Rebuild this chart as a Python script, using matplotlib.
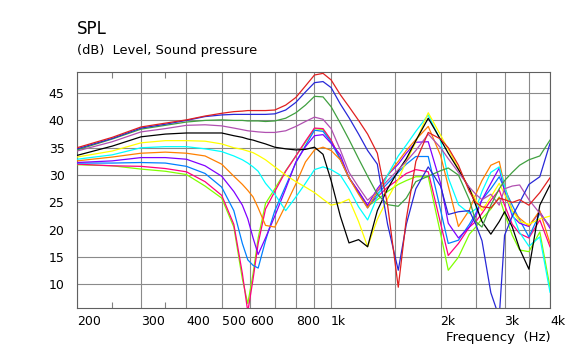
import matplotlib
matplotlib.use("Agg")
import matplotlib.pyplot as plt
from matplotlib.ticker import FixedLocator, NullFormatter

# measurement frequencies (Hz)
freq = [200, 250, 300, 350, 400, 450, 500, 540, 570, 590, 610, 630, 660, 700, 750, 800, 850, 900, 950, 1000,
        1060, 1120, 1190, 1260, 1340, 1430, 1530, 1610, 1710, 1850, 2000, 2100, 2240, 2400, 2500, 2600,
        2750, 2900, 3000, 3150, 3300, 3500, 3750, 4000]

# SPL curves (dB)
spl_red = [35.0, 36.9, 38.8, 39.5, 40.1, 40.8, 41.3, 41.6, 41.7, 41.8, 41.8, 41.8, 41.8, 41.9, 42.8, 44.2, 46.3, 48.3, 48.6, 47.4,
           44.7, 42.5, 40.0, 37.5, 34.0, 24.5, 9.5, 22.0, 32.5, 37.8, 36.6, 35.0, 31.8, 27.0, 25.0, 24.2,
           24.0, 25.8, 25.5, 25.0, 25.5, 24.5, 26.8, 29.5]
spl_blue = [34.8, 36.7, 38.6, 39.3, 40.0, 40.7, 41.0, 41.1, 41.1, 41.1, 41.1, 41.1, 41.1, 41.2, 41.9, 43.3, 45.2, 46.9, 47.1, 46.0,
            43.0, 40.5, 37.5, 34.5, 32.0, 21.0, 12.6, 21.0, 27.5, 31.5, 28.0, 22.8, 23.3, 23.5, 21.0, 18.0,
            8.5, 4.0, 19.0, 22.5, 25.0, 28.3, 29.7, 35.8]
spl_green = [34.6, 36.6, 38.4, 39.1, 39.7, 40.0, 40.1, 40.0, 40.0, 39.9, 39.9, 39.9, 39.8, 39.9, 40.4, 41.4, 42.8, 44.4, 44.3, 42.5,
             39.5, 36.5, 33.0, 29.8, 26.5, 24.6, 24.3, 25.8, 28.8, 29.8, 30.8, 31.3, 30.0, 25.5, 21.5, 20.5,
             24.5, 27.5, 29.0, 30.5, 31.8, 32.8, 33.5, 36.4]
spl_orchid = [34.4, 36.1, 37.9, 38.5, 39.1, 39.2, 39.0, 38.6, 38.3, 38.1, 38.0, 37.9, 37.8, 37.8, 38.1, 38.9, 39.8, 40.6, 40.2, 38.5,
              34.6, 30.5, 27.8, 25.4, 27.0, 29.0, 31.0, 32.5, 34.5, 37.5, 35.0, 33.0, 30.5, 27.8, 26.5, 25.5,
              26.5, 24.5, 27.5, 28.0, 28.2, 25.5, 23.0, 20.6]
spl_black = [33.6, 35.3, 37.0, 37.5, 37.7, 37.7, 37.7, 37.2, 36.9, 36.6, 36.4, 36.1, 35.7, 35.1, 34.8, 34.6, 34.7, 35.1, 33.8, 29.0,
             22.5, 17.6, 18.2, 16.9, 23.5, 27.5, 30.8, 33.0, 36.3, 40.4, 36.5, 34.0, 31.0, 27.6, 24.5, 21.5,
             19.2, 21.5, 23.3, 20.5, 16.5, 12.8, 24.5, 28.2]
spl_yellow = [33.3, 34.4, 35.9, 36.3, 36.3, 36.2, 35.7, 35.0, 34.7, 34.4, 34.1, 33.6, 32.8, 31.5, 30.0, 28.8, 27.8, 26.8, 25.6, 24.5,
              24.9, 25.6, 21.5, 16.9, 21.9, 25.7, 29.2, 32.5, 36.1, 41.4, 37.3, 34.7, 31.2, 27.5, 25.5, 23.5,
              26.0, 28.5, 26.5, 23.5, 21.5, 21.0, 22.0, 22.5]
spl_cyan = [32.9, 33.7, 35.0, 35.2, 35.2, 34.8, 34.3, 33.5, 32.8, 32.2, 31.5, 30.7, 28.5, 26.5, 23.5, 26.0, 28.5, 31.0, 31.5, 31.0,
            30.0, 27.5, 24.2, 21.8, 26.0, 30.0, 33.5, 35.5, 38.0, 41.0, 36.3, 29.5, 24.6, 23.0, 23.8, 27.0,
            30.5, 31.5, 28.0, 23.0, 19.5, 17.0, 18.7, 8.6]
spl_orange = [32.6, 33.3, 34.0, 34.2, 34.0, 33.5, 32.0, 29.8, 28.3, 27.2, 26.0, 24.0, 20.8, 20.5, 24.5, 28.4, 32.4, 34.6, 35.1, 34.5,
              32.8, 29.5, 26.5, 24.0, 27.0, 30.0, 32.5, 34.5, 36.5, 38.9, 33.6, 28.0, 20.6, 23.6, 26.5, 29.0,
              31.8, 32.5, 28.0, 23.5, 22.1, 20.7, 23.5, 17.5]
spl_violet = [32.3, 32.6, 33.2, 33.2, 32.9, 31.7, 29.8, 27.0, 24.5, 22.0, 18.5, 15.5, 18.5, 22.5, 27.5, 32.4, 35.2, 37.2, 37.4, 35.8,
              33.7, 29.5, 27.0, 24.5, 27.5, 30.0, 32.0, 34.0, 36.0, 36.1, 28.5, 21.2, 18.5, 20.5, 22.5, 25.5,
              28.5, 31.3, 27.0, 22.5, 21.2, 20.6, 23.3, 20.3]
spl_dodger = [32.2, 32.2, 32.3, 32.2, 31.6, 30.3, 27.8, 23.5, 17.5, 14.5, 13.5, 13.0, 18.0, 23.5, 28.0, 32.3, 35.4, 38.2, 38.0, 36.0,
              32.8, 29.5, 26.8, 24.0, 26.5, 28.5, 30.5, 32.0, 33.4, 33.4, 23.6, 17.5, 18.1, 21.0, 23.0, 25.5,
              27.5, 29.7, 27.5, 24.5, 21.8, 18.7, 23.0, 20.6]
spl_pink = [32.0, 31.7, 31.6, 31.2, 30.6, 28.8, 26.3, 21.0, 12.0, 5.0, 11.0, 17.5, 23.8, 27.0, 30.7, 33.5, 36.2, 38.6, 38.5, 36.4,
            33.0, 29.5, 27.0, 24.3, 26.0, 27.8, 29.2, 30.3, 31.0, 30.6, 21.2, 15.3, 17.5, 20.5, 21.5, 23.0,
            25.4, 27.3, 24.5, 21.0, 19.3, 18.5, 21.8, 16.9]
spl_lime = [31.9, 31.7, 31.1, 30.7, 30.1, 28.0, 25.8, 20.5, 11.0, 6.5, 12.0, 18.5, 24.8, 27.5, 30.8, 33.5, 36.0, 38.5, 38.3, 36.3,
            33.0, 29.5, 26.8, 24.3, 25.5, 27.0, 28.3, 29.0, 29.7, 29.7, 19.3, 12.6, 15.0, 19.2, 20.5, 22.0,
            23.8, 26.0, 23.0, 19.0, 16.3, 16.0, 19.6, 9.5]

# drawing order: bottom first
curves = [
    (spl_lime, "#80ff00"),
    (spl_pink, "#ff0080"),
    (spl_dodger, "#0080ff"),
    (spl_violet, "#8000ff"),
    (spl_orange, "#ff8000"),
    (spl_cyan, "#00ffff"),
    (spl_yellow, "#ffff00"),
    (spl_black, "#000000"),
    (spl_orchid, "#b050b0"),
    (spl_green, "#40a040"),
    (spl_blue, "#2828d8"),
    (spl_red, "#e02020"),
]

grid_freqs = [200, 300, 400, 500, 600, 700, 800, 900, 1000, 1500, 2000, 2500, 3000, 3500, 4000]
grid_labels = ["200", "300", "400", "500", "600", "", "800", "", "1k", "", "2k", "", "3k", "", "4k"]
y_ticks = [10, 15, 20, 25, 30, 35, 40, 45]

fig = plt.figure(figsize=(5.78, 3.51), dpi=100)
ax = fig.add_axes([77 / 578, 1 - 308 / 351, (550 - 77) / 578, (308 - 72) / 351])

for vals, col in curves:
    ax.plot(freq, vals, color=col, lw=0.9, zorder=3)

ax.set_xscale("log")
ax.set_xlim(200, 4000)
ax.set_ylim(5.7, 48.85)

ax.xaxis.set_major_locator(FixedLocator(grid_freqs))
ax.set_xticklabels(grid_labels)
ax.xaxis.set_minor_locator(FixedLocator([250, 350]))
ax.xaxis.set_minor_formatter(NullFormatter())
ax.set_yticks(y_ticks)

ax.tick_params(axis="both", which="major", length=0, labelsize=9, colors="black")
ax.tick_params(axis="x", which="major", pad=5)
ax.tick_params(axis="y", which="major", pad=9)
ax.tick_params(axis="x", which="minor", direction="in", length=4, top=True, bottom=True,
               color="#808080", width=0.8)
for lbl in ax.get_xticklabels():
    lbl.set_horizontalalignment("left")

ax.grid(True, which="major", color="#8a8a8a", lw=0.8, zorder=1)
for sp in ax.spines.values():
    sp.set_color("#606060")
    sp.set_linewidth(0.8)

fig.text(77 / 578, 1 - 28.5 / 351, "SPL", fontsize=12, va="center", ha="left")
fig.text(77 / 578, 1 - 50.5 / 351, "(dB)  Level, Sound pressure", fontsize=9.4, va="center", ha="left")
fig.text(551 / 578, 1 - 337 / 351, "Frequency  (Hz)", fontsize=9.5, va="center", ha="right")

fig.savefig("out.png", dpi=100)
